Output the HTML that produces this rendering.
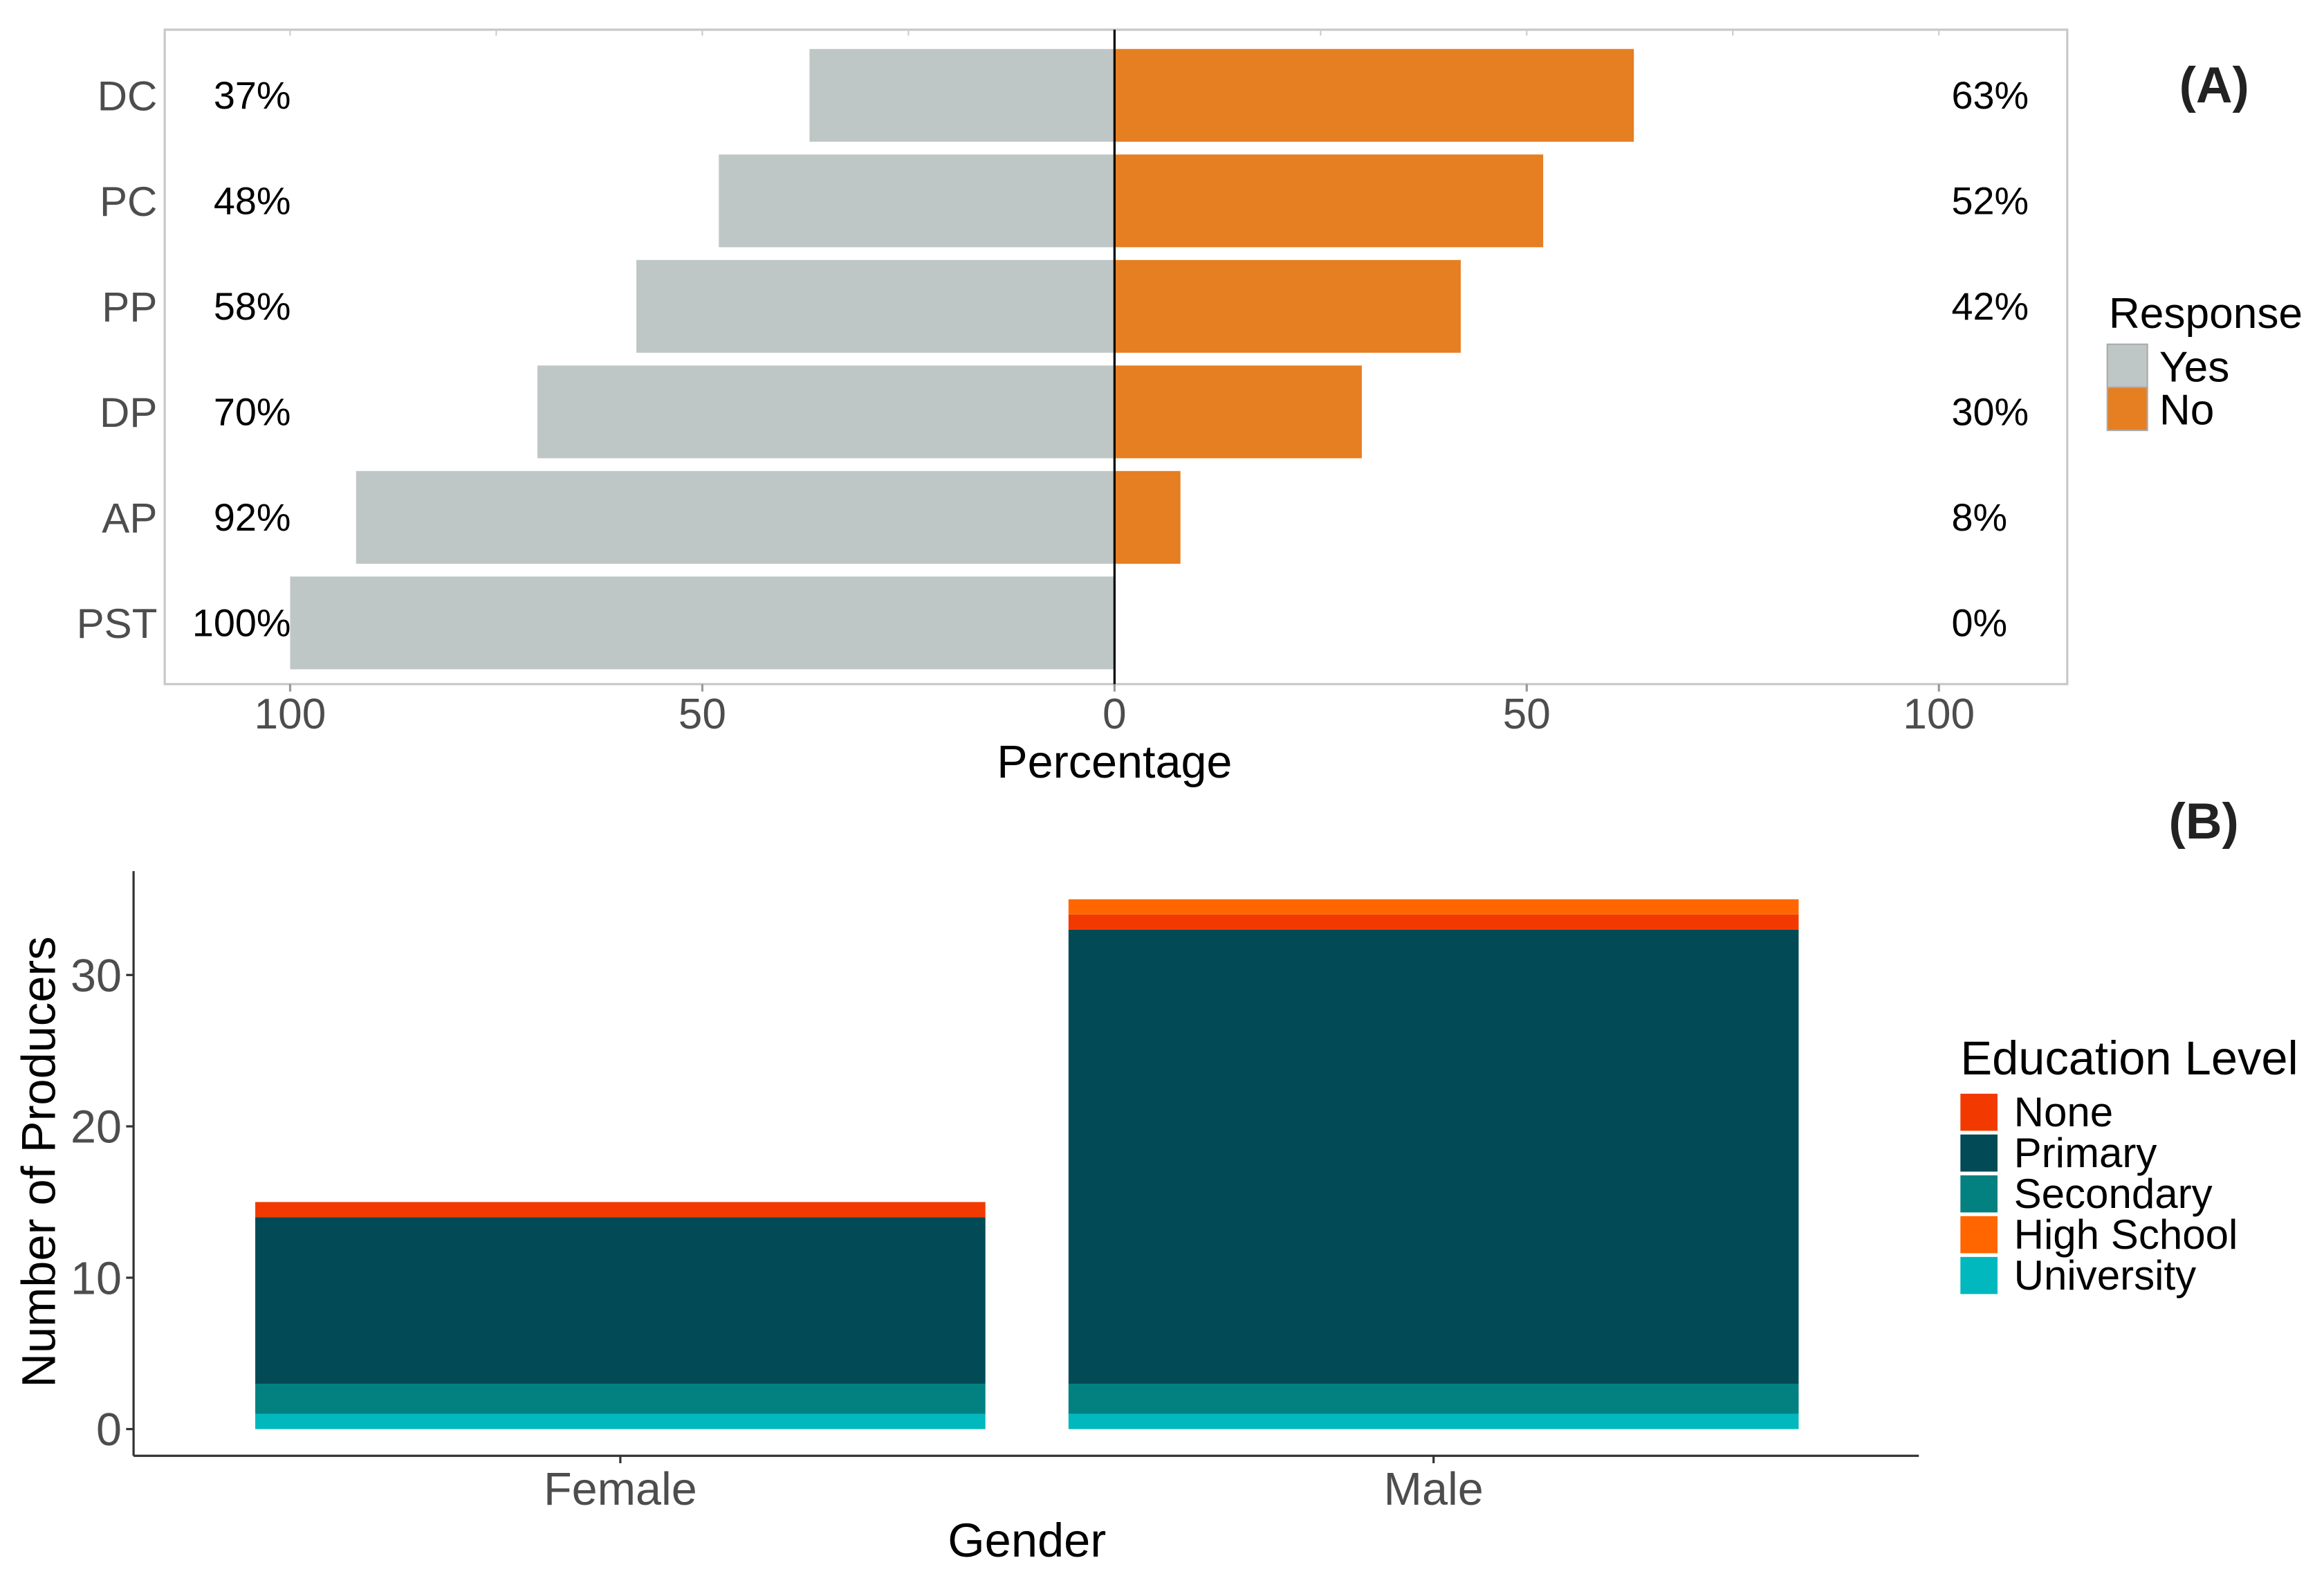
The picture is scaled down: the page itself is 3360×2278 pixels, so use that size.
<!DOCTYPE html>
<html><head><meta charset="utf-8"><style>
html,body{margin:0;padding:0;background:#fff;}
svg{display:block;font-family:"Liberation Sans",Arial,sans-serif;}
</style></head><body>
<svg id="fig" width="3360" height="2278" viewBox="0 0 1566 1062" preserveAspectRatio="none" xmlns="http://www.w3.org/2000/svg">
<g id="pa"></g>
<g id="pb"></g>
</svg>
<script>
// Panel A data
const catsA = ["DC","PC","PP","DP","AP","PST"];
const yesVals = [37,48,58,70,92,100];
const noVals = [63,52,42,30,8,0];
const ticksA = [-100,-50,0,50,100];
const tickLabelsA = ["100","50","0","50","100"];
// Panel B data
const genders = ["Female","Male"];
const levels = ["University","Secondary","Primary","None","High School"];
const universityVals = [1,1];
const secondaryVals = [2,2];
const primaryVals = [11,30];
const noneVals = [1,1];
const highSchoolVals = [0,1];
const ticksB = [0,10,20,30];
const legendB = ["None","Primary","Secondary","High School","University"];

const NS="http://www.w3.org/2000/svg";
function mk(parent,tag,attrs,text){const e=document.createElementNS(NS,tag);for(const k in attrs)e.setAttribute(k,attrs[k]);if(text!==undefined)e.textContent=text;parent.appendChild(e);return e;}

// ---------- Panel A ----------
const pa=document.getElementById('pa');
const xA=v=>751+v*5.555;
const yA=i=>33+i*71.1;
const bhA=62.5;
let el=mk(pa,'rect',{x:111,y:20,width:1282,height:441,fill:'#fff',stroke:'#c8c8c8','stroke-width':1.5});


[-75,-25,25,75].concat(ticksA).forEach(t=>{
  const g=mk(pa,'line',{x1:xA(t),x2:xA(t),y1:20,y2:24,stroke:'#ccc','stroke-width':1});
  
  
});
catsA.forEach((c,i)=>{
  const y=yA(i);
  let r=mk(pa,'rect',{x:xA(-yesVals[i]),y:y,width:xA(0)-xA(-yesVals[i]),height:bhA,fill:'#BFC7C6'});
  
  
  r=mk(pa,'rect',{x:xA(0),y:y,width:xA(noVals[i])-xA(0),height:bhA,fill:'#E67E22'});
  
  
  let t=mk(pa,'text',{x:106,y:y+bhA/2+10,'text-anchor':'end','font-size':28,fill:'#4d4d4d'},c);
  
  
  t=mk(pa,'text',{x:196,y:y+bhA/2+9,'text-anchor':'end','font-size':26,fill:'#000'},yesVals[i]+'%');
  
  
  t=mk(pa,'text',{x:1315,y:y+bhA/2+9,'text-anchor':'start','font-size':26,fill:'#000'},noVals[i]+'%');
  
  
});
el=mk(pa,'line',{x1:751,x2:751,y1:20,y2:461,stroke:'#000','stroke-width':1.5});


ticksA.forEach((t,i)=>{
  const l=mk(pa,'line',{x1:xA(t),x2:xA(t),y1:461,y2:466,stroke:'#999','stroke-width':1.5});
  
  
  const tx=mk(pa,'text',{x:xA(t),y:491,'text-anchor':'middle','font-size':29,fill:'#4d4d4d'},tickLabelsA[i]);
  
  
});
el=mk(pa,'text',{x:751,y:524,'text-anchor':'middle','font-size':31,fill:'#000'},'Percentage');


el=mk(pa,'text',{x:1492,y:69,'text-anchor':'middle','font-size':34,'font-weight':'bold',fill:'#222'},'(A)');


el=mk(pa,'text',{x:1421,y:221,'font-size':29,fill:'#000'},'Response');


[['Yes','#BFC7C6'],['No','#E67E22']].forEach((d,i)=>{
  const r=mk(pa,'rect',{x:1420,y:232+i*29,width:27,height:29,fill:d[1],stroke:'#aaa','stroke-width':1});
  
  
  const t=mk(pa,'text',{x:1455,y:257+i*29,'font-size':29,fill:'#000'},d[0]);
  
  
});

// ---------- Panel B ----------
const pb=document.getElementById('pb');
const yB=v=>963-v*10.2;
const bxB=[172,720], bwB=492;
const colors={"University":"#00B8BD","Secondary":"#038080","Primary":"#024A55","None":"#F23A00","High School":"#FF6600"};
const series=[universityVals,secondaryVals,primaryVals,noneVals,highSchoolVals];
genders.forEach((g,gi)=>{
  let base=0;
  levels.forEach((lv,li)=>{
    const v=series[li][gi];
    if(v>0){
      const r=mk(pb,'rect',{x:bxB[gi],y:yB(base+v),width:bwB,height:yB(base)-yB(base+v),fill:colors[lv]});
      
      
    }
    base+=v;
  });
  const l=mk(pb,'line',{x1:bxB[gi]+bwB/2,x2:bxB[gi]+bwB/2,y1:981,y2:986,stroke:'#333','stroke-width':1.5});
  
  
  const t=mk(pb,'text',{x:bxB[gi]+bwB/2,y:1014,'text-anchor':'middle','font-size':31,fill:'#4d4d4d'},g);
  
  
});
el=mk(pb,'line',{x1:90,x2:90,y1:587,y2:981,stroke:'#333','stroke-width':1.5});


el=mk(pb,'line',{x1:90,x2:1293,y1:981,y2:981,stroke:'#333','stroke-width':1.5});


ticksB.forEach(t=>{
  const l=mk(pb,'line',{x1:85,x2:90,y1:yB(t),y2:yB(t),stroke:'#333','stroke-width':1.5});
  
  
  const tx=mk(pb,'text',{x:82,y:yB(t)+11,'text-anchor':'end','font-size':31,fill:'#4d4d4d'},String(t));
  
  
});
el=mk(pb,'text',{x:692,y:1049,'text-anchor':'middle','font-size':32,fill:'#000'},'Gender');


el=mk(pb,'text',{x:37,y:783,'text-anchor':'middle','font-size':32,fill:'#000',transform:'rotate(-90 37 783)'},'Number of Producers');


el=mk(pb,'text',{x:1485,y:565,'text-anchor':'middle','font-size':34,'font-weight':'bold',fill:'#222'},'(B)');


el=mk(pb,'text',{x:1321,y:724,'font-size':32,fill:'#000'},'Education Level');


legendB.forEach((lv,i)=>{
  const r=mk(pb,'rect',{x:1321,y:737+i*27.5,width:25,height:25,fill:colors[lv]});
  
  
  const t=mk(pb,'text',{x:1357,y:759+i*27.5,'font-size':28,fill:'#000'},lv);
  
  
});
</script>
</body></html>
